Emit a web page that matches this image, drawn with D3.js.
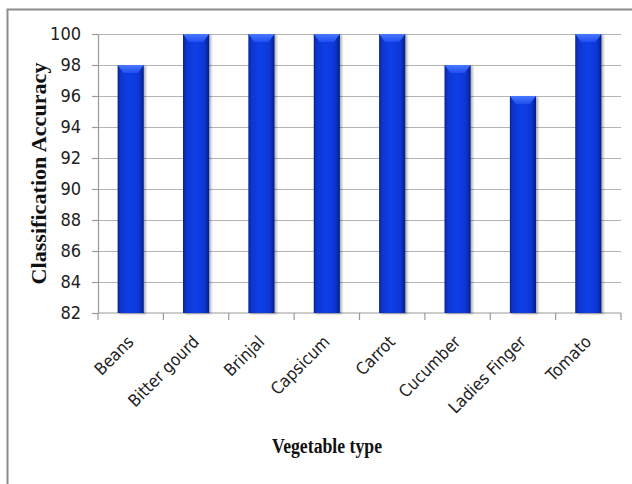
<!DOCTYPE html>
<html>
<head>
<meta charset="utf-8">
<script src="https://cdn.jsdelivr.net/npm/d3@7"></script>
<style>
  html, body { margin: 0; padding: 0; background: #fff; }
  svg { display: block; }
</style>
</head>
<body>
<svg id="chart" width="632" height="484"></svg>
<script>
// Classification accuracy per vegetable type
const categories = ["Beans", "Bitter gourd", "Brinjal", "Capsicum", "Carrot", "Cucumber", "Ladies Finger", "Tomato"];
const accuracy = [98, 100, 100, 100, 100, 98, 96, 100];
const yTicks = [82, 84, 86, 88, 90, 92, 94, 96, 98, 100];
const yTitle = "Classification Accuracy";
const xTitle = "Vegetable type";

const svg = d3.select("#chart");
const W = 632, H = 484;
const m = { left: 98, right: 11, top: 34, bottom: 171 };
const sansNarrow = "'Liberation Sans Narrow', 'Arial Narrow', 'DejaVu Sans Condensed', sans-serif";
const serif = "'Liberation Serif', 'DejaVu Serif', serif";

// outer frame
svg.append("rect")
  .attr("x", 7.5).attr("y", 9.5)
  .attr("width", W + 20).attr("height", H + 20)
  .attr("fill", "none").attr("stroke", "#8c8c8c").attr("stroke-width", 2);

const x = d3.scaleBand().domain(categories).range([m.left, W - m.right]).paddingInner(0.6).paddingOuter(0.3);
const y = d3.scaleLinear().domain([82, 100]).range([H - m.bottom, m.top]);

const defs = svg.append("defs");
const grad = defs.append("linearGradient").attr("id", "barGrad").attr("x1", "0").attr("x2", "1").attr("y1", "0").attr("y2", "0");
[[0, "#06238f"], [0.12, "#0a35cf"], [0.45, "#0d3fe6"], [0.8, "#0a37d6"], [1, "#052089"]]
  .forEach(([o, c]) => grad.append("stop").attr("offset", o).attr("stop-color", c));
const capGrad = defs.append("linearGradient").attr("id", "capGrad").attr("x1", "0").attr("x2", "0").attr("y1", "0").attr("y2", "1");
[[0, "#4a78ff"], [1, "#1e4ef0"]].forEach(([o, c]) => capGrad.append("stop").attr("offset", o).attr("stop-color", c));
const shadow = defs.append("filter").attr("id", "shadow").attr("x", "-30%").attr("y", "-10%").attr("width", "160%").attr("height", "120%");
shadow.append("feDropShadow").attr("dx", 2).attr("dy", 1).attr("stdDeviation", 1.2).attr("flood-color", "#000").attr("flood-opacity", 0.3);

// horizontal gridlines
const grid = svg.append("g");
grid.selectAll("line").data(yTicks.filter(t => t > 82)).join("line")
  .attr("x1", m.left).attr("x2", W - m.right)
  .attr("y1", d => Math.round(y(d)) + 0.5).attr("y2", d => Math.round(y(d)) + 0.5)
  .attr("stroke", "#b4b4b4").attr("stroke-width", 1.2);

// y axis
const yAxis = svg.append("g").attr("transform", `translate(${m.left},0)`)
  .call(d3.axisLeft(y).tickValues(yTicks).tickSize(6).tickSizeOuter(0).tickPadding(11));
yAxis.select(".domain").attr("stroke", "#9a9a9a").attr("stroke-width", 1.2);
yAxis.selectAll(".tick line").attr("stroke", "#9a9a9a").attr("stroke-width", 1.2);
yAxis.selectAll(".tick text")
  .attr("font-family", sansNarrow)
  .attr("font-size", 18).attr("fill", "#222");

// x axis with ticks at band boundaries
const xAxisY = y(82);
const xg = svg.append("g");
xg.append("line").attr("x1", m.left).attr("x2", W - m.right)
  .attr("y1", xAxisY).attr("y2", xAxisY).attr("stroke", "#9a9a9a").attr("stroke-width", 1.2);
const bounds = d3.range(categories.length + 1).map(i => m.left + i * x.step());
xg.selectAll("line.tk").data(bounds).join("line").attr("class", "tk")
  .attr("x1", d => d).attr("x2", d => d)
  .attr("y1", xAxisY).attr("y2", xAxisY + 7)
  .attr("stroke", "#9a9a9a").attr("stroke-width", 1.2);

// bars
const bars = svg.append("g");
categories.forEach((c, i) => {
  const bx = x(c), bw = x.bandwidth(), top = y(accuracy[i]), bottom = y(82);
  bars.append("rect")
    .attr("x", bx).attr("y", top).attr("width", bw).attr("height", bottom - top)
    .attr("fill", "url(#barGrad)").attr("filter", "url(#shadow)");
  const cap = 8, inset = 6;
  bars.append("path")
    .attr("d", `M${bx},${top} L${bx + bw},${top} L${bx + bw - inset},${top + cap} L${bx + inset},${top + cap} Z`)
    .attr("fill", "url(#capGrad)");
});

// category labels, rotated
xg.selectAll("text.cat").data(categories).join("text").attr("class", "cat")
  .attr("transform", d => `translate(${x(d) + x.bandwidth() / 2 + 4},${xAxisY + 30}) rotate(-45)`)
  .attr("text-anchor", "end")
  .attr("font-family", sansNarrow)
  .attr("font-size", 17).attr("fill", "#222")
  .text(d => d);

// axis titles
svg.append("text")
  .attr("transform", `translate(46,${(y(82) + y(100)) / 2}) rotate(-90)`)
  .attr("text-anchor", "middle")
  .attr("font-family", serif)
  .attr("font-weight", "bold").attr("font-size", 20).attr("fill", "#111")
  .attr("textLength", 222).attr("lengthAdjust", "spacingAndGlyphs")
  .text(yTitle);

svg.append("text")
  .attr("x", 327).attr("y", 453)
  .attr("text-anchor", "middle")
  .attr("font-family", serif)
  .attr("font-weight", "bold").attr("font-size", 20).attr("fill", "#111")
  .attr("textLength", 110).attr("lengthAdjust", "spacingAndGlyphs")
  .text(xTitle);
</script>
</body>
</html>
